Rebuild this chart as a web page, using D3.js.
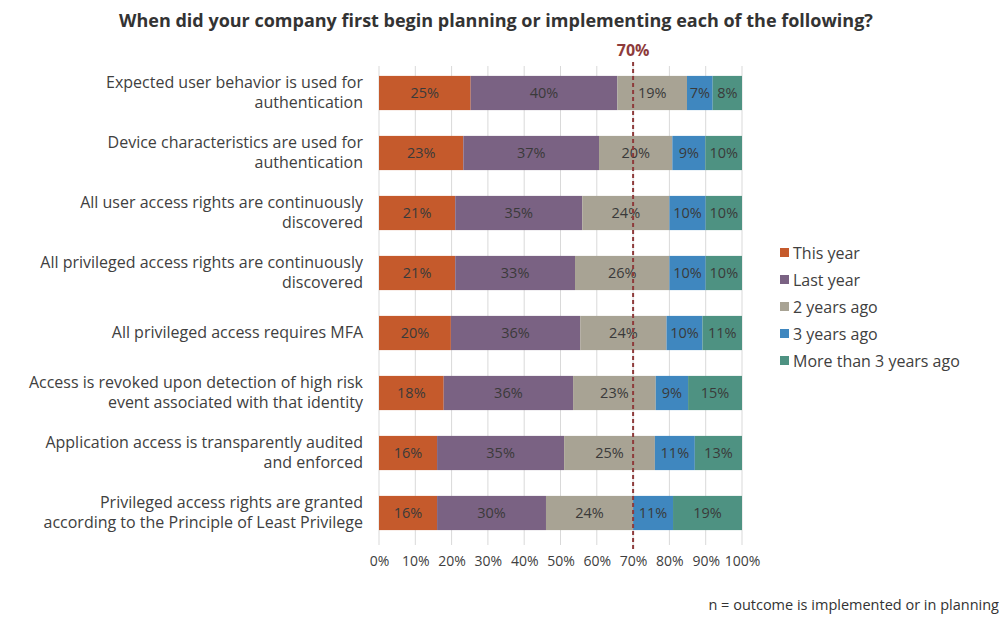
<!DOCTYPE html>
<html><head><meta charset="utf-8">
<script src="https://cdn.jsdelivr.net/npm/d3@7"></script>
<style>body{margin:0;background:#fff;} text{font-family:"Open Sans",sans-serif;}</style>
</head><body><svg id="c" width="1006" height="618"></svg>
<script>
const categories = [
  ["Expected user behavior is used for","authentication"],
  ["Device characteristics are used for","authentication"],
  ["All user access rights are continuously","discovered"],
  ["All privileged access rights are continuously","discovered"],
  ["All privileged access requires MFA"],
  ["Access is revoked upon detection of high risk","event associated with that identity"],
  ["Application access is transparently audited","and enforced"],
  ["Privileged access rights are granted","according to the Principle of Least Privilege"]
];
const seriesNames = ["This year","Last year","2 years ago","3 years ago","More than 3 years ago"];
const thisYear  = [25,23,21,21,20,18,16,16];
const lastYear  = [40,37,35,33,36,36,35,30];
const twoYears  = [19,20,24,26,24,23,25,24];
const threeYears= [7,9,10,10,10,9,11,11];
const moreThan3 = [8,10,10,10,11,15,13,19];
const xTicks = [0,10,20,30,40,50,60,70,80,90,100];
const refLine = 70;
const colors = ["#C55A2C","#7A6283","#A8A394","#3F87BF","#4E9282"];

const svg = d3.select("#c");
const rows = categories.map((c,i)=>({i, "This year":thisYear[i],"Last year":lastYear[i],"2 years ago":twoYears[i],"3 years ago":threeYears[i],"More than 3 years ago":moreThan3[i]}));
const stacked = d3.stack().keys(seriesNames).offset(d3.stackOffsetExpand)(rows);

const x = d3.scaleLinear().domain([0,1]).range([379,742]);
const y = d3.scaleBand().domain(d3.range(categories.length)).range([63,543]).paddingInner(0.43).paddingOuter(0.215);

// title
svg.append("text").attr("x",496).attr("y",27).attr("text-anchor","middle")
  .attr("font-size",18).attr("font-weight","bold").attr("fill","#333")
  .text("When did your company first begin planning or implementing each of the following?");

// gridlines
svg.append("g").selectAll("line").data(xTicks).join("line")
  .attr("x1",d=>x(d/100)).attr("x2",d=>x(d/100)).attr("y1",66).attr("y2",545)
  .attr("stroke","#d9d9d9").attr("stroke-width",1);

// bars
const g = svg.append("g");
stacked.forEach((s,k)=>{
  g.append("g").selectAll("rect").data(s).join("rect")
    .attr("x",d=>x(d[0])).attr("width",d=>x(d[1])-x(d[0]))
    .attr("y",d=>y(d.data.i)).attr("height",y.bandwidth())
    .attr("fill",colors[k]);
  g.append("g").selectAll("text").data(s).join("text")
    .attr("x",d=>(x(d[0])+x(d[1]))/2).attr("y",d=>y(d.data.i)+y.bandwidth()/2+5)
    .attr("text-anchor","middle").attr("font-size",14.5).attr("fill","#3a3a3a")
    .text(d=>d.data[s.key]+"%");
});

// ref line
svg.append("line").attr("x1",x(refLine/100)).attr("x2",x(refLine/100)).attr("y1",62).attr("y2",550)
  .attr("stroke","#8E3B3B").attr("stroke-width",2).attr("stroke-dasharray","4,3");
svg.append("text").attr("x",x(refLine/100)).attr("y",56).attr("text-anchor","middle")
  .attr("font-size",16).attr("font-weight","bold").attr("fill","#8E3B3B").text(refLine+"%");

// category labels
const cl = svg.append("g");
categories.forEach((lines,i)=>{
  const cy = y(i)+y.bandwidth()/2;
  const t = cl.append("text").attr("text-anchor","end").attr("font-size",16).attr("fill","#404040");
  lines.forEach((ln,j)=>{
    t.append("tspan").attr("x",363).attr("y",cy+5+(j-(lines.length-1)/2)*20).text(ln);
  });
});

// x axis
const ax = svg.append("g").attr("transform","translate(0,548)")
  .call(d3.axisBottom(x).tickValues(xTicks.map(v=>v/100)).tickFormat(d=>Math.round(d*100)+"%").tickSize(0).tickPadding(8));
ax.select(".domain").remove();
ax.selectAll("text").attr("font-size",14).attr("fill","#404040").attr("font-family","'Open Sans',sans-serif");

// legend
const lg = svg.append("g");
seriesNames.forEach((n,k)=>{
  const ly = 253+k*27;
  lg.append("rect").attr("x",780).attr("y",ly-5).attr("width",9).attr("height",9).attr("fill",colors[k]);
  lg.append("text").attr("x",793).attr("y",ly+5.5).attr("font-size",16).attr("fill","#404040").text(n);
});

// footnote
svg.append("text").attr("x",999).attr("y",610).attr("text-anchor","end")
  .attr("font-size",14.5).attr("fill","#333").text("n = outcome is implemented or in planning");
</script></body></html>
